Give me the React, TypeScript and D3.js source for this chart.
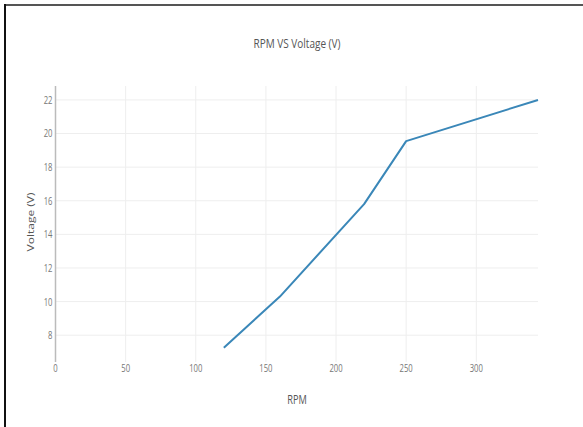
import React from "react";
import * as d3 from "d3";

const rpm = [120, 160, 220, 250, 344];
const voltage = [7.25, 10.3, 15.8, 19.55, 22];
const xTicks = [0, 50, 100, 150, 200, 250, 300];
const yTicks = [8, 10, 12, 14, 16, 18, 20, 22];
const title = "RPM VS Voltage (V)";
const xTitle = "RPM";
const yTitle = "Voltage (V)";

const W = 583;
const H = 427;
const SX = 0.77;

export default function App() {
  const left = 55.5, right = 538, top = 86, bottom = 362;
  const x = d3.scaleLinear().domain([0, 344]).range([left, right]);
  const y = d3.scaleLinear().domain([6.405, 22.83]).range([bottom, top]);
  const pts = rpm.map((r, i) => [x(r), y(voltage[i])] as [number, number]);
  const line = d3.line()(pts) || "";
  const font = "'Open Sans', sans-serif";

  const T = (props: { x: number; y: number; size: number; fill: string; anchor?: string; children: string; rotate?: number }) => (
    <text
      transform={
        props.rotate
          ? `translate(${props.x},${props.y}) rotate(${props.rotate}) scale(1,${SX})`
          : `translate(${props.x},${props.y}) scale(${SX},1)`
      }
      fontFamily={font}
      fontSize={props.size}
      fill={props.fill}
      textAnchor={props.anchor || "middle"}
      dominantBaseline="central"
    >
      {props.children}
    </text>
  );

  return (
    <svg width={W} height={H} style={{ position: "absolute", left: 0, top: 0, background: "#fff" }}>
      <rect x={0} y={0} width={W} height={H} fill="#fff" />
      {/* border */}
      <line x1={4} x2={W} y1={5} y2={5} stroke="#555" strokeWidth={2} />
      <line x1={5} x2={5} y1={4} y2={H} stroke="#111" strokeWidth={2} />
      {/* grid */}
      {yTicks.map((t) => (
        <line key={"gy" + t} x1={left} x2={right} y1={y(t)} y2={y(t)} stroke="#eeeeee" strokeWidth={1} />
      ))}
      {xTicks.filter((t) => t !== 0).map((t) => (
        <line key={"gx" + t} x1={x(t)} x2={x(t)} y1={top} y2={bottom} stroke="#eeeeee" strokeWidth={1} />
      ))}
      {/* y axis / zero line */}
      <line x1={x(0)} x2={x(0)} y1={top} y2={bottom} stroke="#bbb" strokeWidth={1.5} />
      {/* data line */}
      <path d={line} fill="none" stroke="#3a87b8" strokeWidth={2} strokeLinejoin="round" />
      {/* tick labels */}
      {yTicks.map((t) => (
        <T key={"ty" + t} x={left - 3} y={y(t)} size={10} fill="#777" anchor="end">{String(t)}</T>
      ))}
      {xTicks.map((t) => (
        <T key={"tx" + t} x={x(t)} y={368} size={10} fill="#777">{String(t)}</T>
      ))}
      {/* titles */}
      <T x={297} y={43} size={13} fill="#555">{title}</T>
      <T x={297} y={400} size={12} fill="#555">{xTitle}</T>
      <T x={31} y={222} size={12} fill="#555" rotate={-90}>{yTitle}</T>
    </svg>
  );
}
